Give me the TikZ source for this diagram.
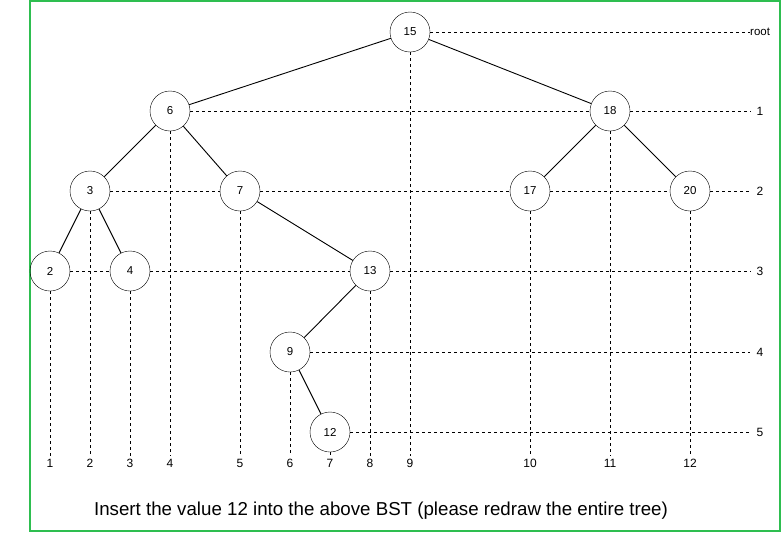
\documentclass[tikz,border=0pt]{standalone}
\usepackage{fontspec}
\setmainfont{Liberation Sans}
\usepackage{tikz}

\definecolor{framegreen}{RGB}{46,190,80}

\begin{document}
\begin{tikzpicture}[x=1pt,y=-1pt,
	tree node/.style={circle,draw,minimum size=40pt,inner sep=0pt,font=\fontsize{11.5}{13}\selectfont},
	col label/.style={inner sep=3pt,font=\fontsize{12}{14}\selectfont},
	lvl label/.style={inner sep=6pt,font=\fontsize{12}{14}\selectfont},
	guide/.style={dashed,dash pattern=on 3pt off 3pt,line width=0.8pt},
	branch/.style={line width=0.9pt}]
				
				\useasboundingbox (0,0) rectangle (782,533);
				\draw[framegreen,line width=2pt] (30,1) rectangle (780,531);
				
				\node[tree node] (15) at (410,32) {15};
				\node[tree node] (6) at (170,111) {6};
				\node[tree node] (18) at (610,111) {18};
				\node[tree node] (3) at (90,191) {3};
				\node[tree node] (7) at (240,191) {7};
				\node[tree node] (17) at (530,191) {17};
				\node[tree node] (20) at (690,191) {20};
				\node[tree node] (2) at (50,271) {2};
				\node[tree node] (4) at (130,271) {4};
				\node[tree node] (13) at (370,271) {13};
				\node[tree node] (9) at (290,352) {9};
				\node[tree node] (12) at (330,432) {12};
				
				\node[anchor=west,inner sep=0pt,font=\fontsize{11.5}{13}\selectfont] (L0) at (750,32) {root};
				\node[lvl label] (L1) at (760,111) {1};
				\node[lvl label] (L2) at (760,191) {2};
				\node[lvl label] (L3) at (760,271) {3};
				\node[lvl label] (L4) at (760,352) {4};
				\node[lvl label] (L5) at (760,432) {5};
				
				\coordinate (base) at (0,463);
				
				\path[branch] (15) edge (6) (15) edge (18);
				\path[branch] (6) edge (3) (6) edge (7);
				\path[branch] (3) edge (2) (3) edge (4);
				\path[branch] (7) edge (13);
				\path[branch] (18) edge (17) (18) edge (20);
				\path[branch] (13) edge (9);
				\path[branch] (9) edge (12);
				
				% levels
				\foreach \a/\b in {15/L0,6/18,18/L1,3/7,7/17,17/20,20/L2,2/4,4/13,13/L3,9/L4,12/L5}
				\draw[guide] (\a) -- (\b);
				
				% columns
				\foreach \n/\k in {2/1,3/2,4/3,6/4,7/5,9/6,12/7,13/8,15/9,17/10,18/11,20/12}{
					\node[col label] (c\k) at (\n |- base) {\k};
					\draw[guide] (\n) -- (c\k);
				}
				
				\node[font=\fontsize{18.7}{22}\selectfont] (caption) at (381,511) {Insert the value 12 into the above BST (please redraw the entire tree)};
				\end{tikzpicture}
\end{document}
